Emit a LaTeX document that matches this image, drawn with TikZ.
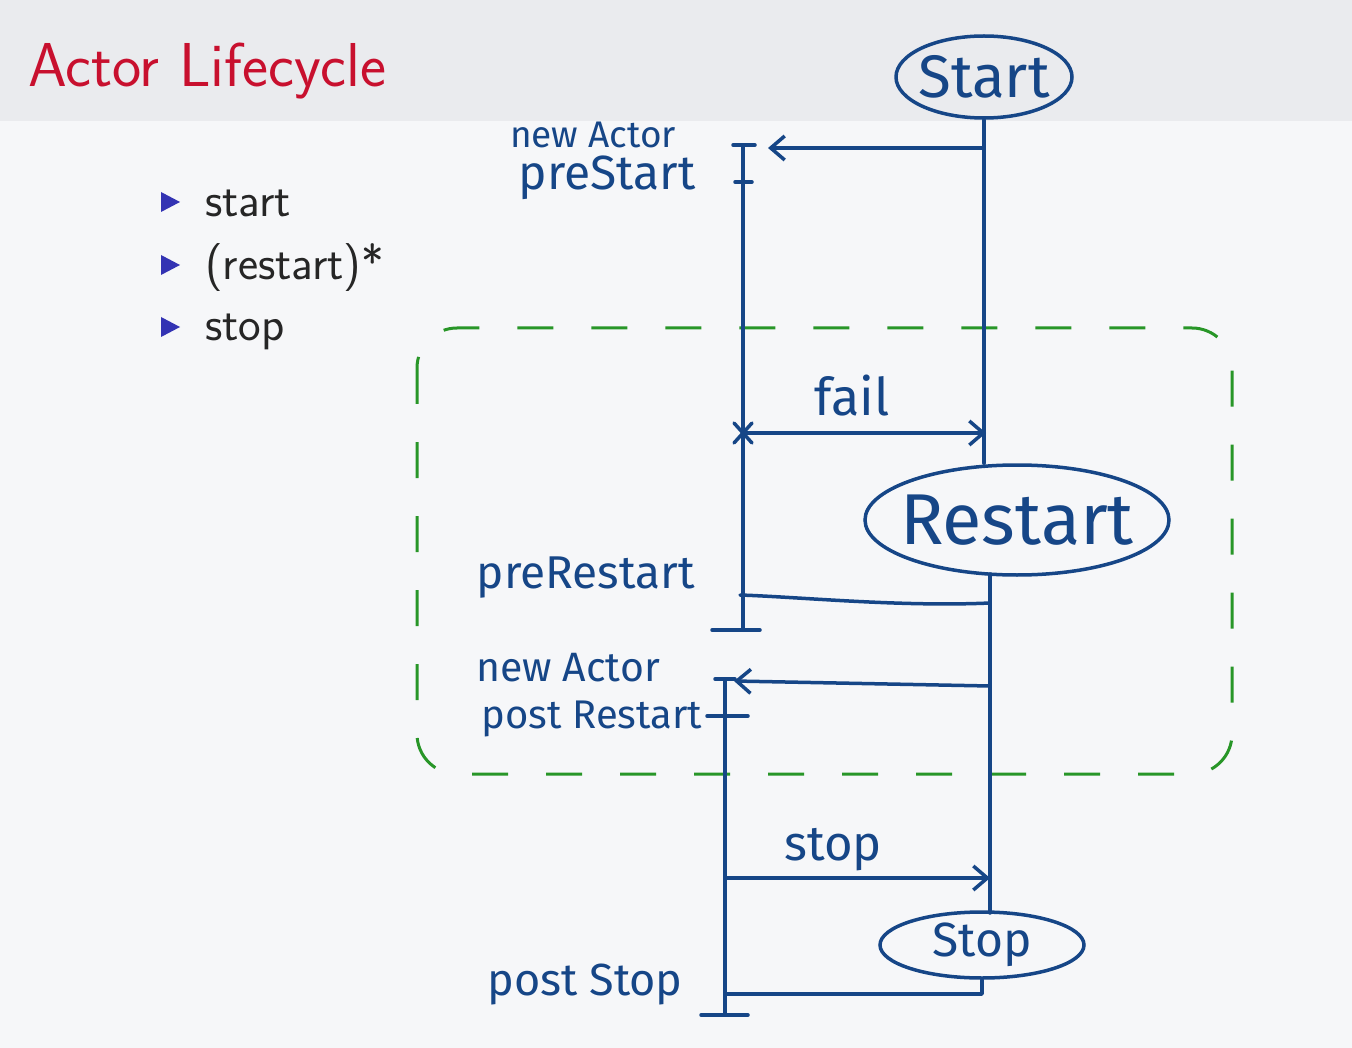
\documentclass[tikz,border=0pt]{standalone}
\usepackage{fontspec}
\newfontfamily\handfont{Fira Sans}
\usetikzlibrary{shapes.geometric,arrows.meta}
\definecolor{inkblue}{RGB}{22,70,135}
\definecolor{dashgreen}{RGB}{40,150,40}
\definecolor{titlered}{RGB}{200,16,46}
\definecolor{bulletblue}{RGB}{51,51,179}
\definecolor{headbg}{RGB}{234,235,238}
\definecolor{bodybg}{RGB}{246,247,249}
\begin{document}
\begin{tikzpicture}[x=1pt,y=-1pt,
  ink/.style={draw=inkblue, line width=3.5pt, line cap=round, line join=round},
  tip/.style={-{Straight Barb[length=14pt,width=24pt,line width=3.5pt]}},
  ell/.style={ellipse, draw=inkblue, line width=3.5pt, inner sep=0pt, text=inkblue},
  hand/.style={text=inkblue, inner sep=0pt},
  bul/.style={anchor=base west, inner sep=0pt, font=\fontsize{48}{52}\sffamily, text=black!85},
  frame/.style={draw=dashgreen, line width=3pt, dash pattern=on 36pt off 38pt, rounded corners=40pt}
]
\useasboundingbox (0,0) rectangle (1352,1048);
\fill[bodybg] (0,0) rectangle (1352,1048);
\fill[headbg] (0,0) rectangle (1352,121);

% title and bullets
\node[anchor=base west, inner sep=0pt, text=titlered, font=\fontsize{62}{68}\sffamily] (title) at (28,87) {Actor Lifecycle};
\node[bul] (b1) at (205,217) {start};
\node[bul] (b2) at (205,280) {(restart)*};
\node[bul] (b3) at (205,341) {stop};
\foreach \y in {202,265,327}
  \fill[bulletblue] (161,\y-10) -- (180,\y) -- (161,\y+10) -- cycle;

% dashed restart region
\draw[frame] (417,328) rectangle (1232,774);

% state ellipses
\node[ell, minimum width=176pt, minimum height=82pt, inner xsep=-8pt, font=\fontsize{60}{64}\handfont] (start) at (984,77) {Start};
\node[ell, minimum width=304pt, minimum height=110pt, inner xsep=-30pt, font=\fontsize{72}{76}\handfont] (restart) at (1017,520) {Restart};
\node[ell, minimum width=204pt, minimum height=66pt, inner xsep=-8pt, font=\fontsize{48}{52}\handfont] (stop) at (982,945) {Stop};

% labels
\node[hand, font=\fontsize{37}{40}\handfont] (na1) at (593,135) {new Actor};
\node[hand, font=\fontsize{48}{52}\handfont] (prs) at (607,178) {preStart};
\node[hand, font=\fontsize{52}{56}\handfont] (fail) at (852,396) {fail};
\node[hand, font=\fontsize{46}{50}\handfont] (prr) at (586,578) {preRestart};
\node[hand, font=\fontsize{41}{44}\handfont] (na2) at (568,668) {new Actor};
\node[hand, font=\fontsize{40}{44}\handfont] (por) at (592,719) {post Restart};
\node[hand, font=\fontsize{49}{52}\handfont] (stl) at (833,850) {stop};
\node[hand, font=\fontsize{45}{48}\handfont] (pos) at (585,985) {post Stop};

% first actor lifeline
\coordinate (L1t) at (743,145);
\coordinate (L1c) at (743,182);
\coordinate (L1b) at (743,630);
\draw[ink] (L1t) -- (L1b);
\draw[ink] ([shift={(-10,0)}]L1t) -- ([shift={(12,0)}]L1t);
\draw[ink] ([shift={(-8,0)}]L1c) -- ([shift={(9,0)}]L1c);
\draw[ink] ([shift={(-31,0)}]L1b) -- ([shift={(17,0)}]L1b);

% right (supervisor) line
\coordinate (RT) at (984,148);
\coordinate (R2t) at (990,574);
\coordinate (R2b) at (990,913);
\draw[ink] (start.south) -- (start.south |- restart.north);
\draw[ink] (R2t) -- (R2b);

% new Actor / preStart arrow
\coordinate (a1) at (768,148);
\draw[ink,tip] (RT) -- (a1);

% fail arrow
\coordinate (F1) at (743,433);
\coordinate (F2) at (986,433);
\draw[ink,tip] (F1) -- (F2);
\draw[ink] ([shift={(-9,-10)}]F1) -- ([shift={(9,10)}]F1);
\draw[ink] ([shift={(-9,10)}]F1) -- ([shift={(9,-10)}]F1);

% preRestart line
\coordinate (pr1) at (990,603);
\coordinate (pr2) at (740,595);
\draw[ink] (pr1) .. controls (900,607) and (800,597) .. (pr2);

% second actor lifeline
\coordinate (L2t) at (725,679);
\coordinate (L2c) at (725,716);
\coordinate (L2b) at (725,1015);
\draw[ink] (L2t) -- (L2b);
\draw[ink] ([shift={(-10,0)}]L2t) -- ([shift={(10,0)}]L2t);
\draw[ink] ([shift={(-18,0)}]L2c) -- ([shift={(23,0)}]L2c);
\draw[ink] ([shift={(-24,0)}]L2b) -- ([shift={(23,0)}]L2b);

% new Actor / postRestart arrow
\coordinate (n2s) at (990,686);
\coordinate (n2e) at (734,681);
\draw[ink,tip] (n2s) -- (n2e);

% stop arrow
\coordinate (S1) at (725,878);
\coordinate (S2) at (990,878);
\draw[ink,tip] (S1) -- (S2);

% postStop line
\coordinate (ps) at (725,994);
\draw[ink] (stop.south) |- (ps);
\end{tikzpicture}
\end{document}
